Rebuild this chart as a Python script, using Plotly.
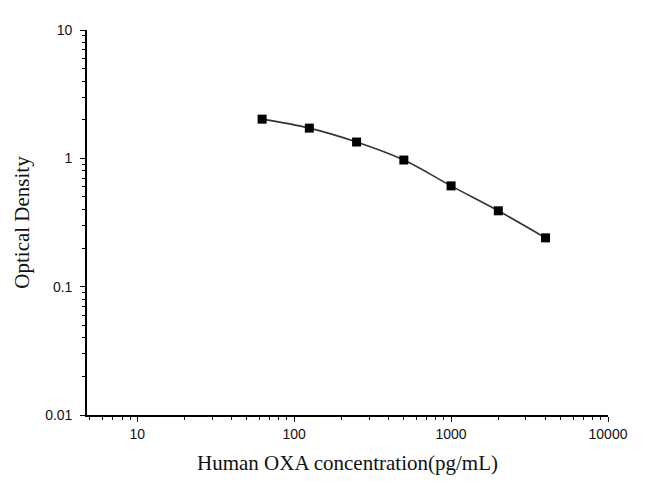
import plotly.graph_objects as go

# standard curve
concentration = [62.5, 125, 250, 500, 1000, 2000, 4000]
optical_density = [2.02, 1.72, 1.34, 0.97, 0.61, 0.39, 0.24]

x_ticks = [10, 100, 1000, 10000]
x_tick_text = ['10', '100', '1000', '10000']
y_ticks = [0.01, 0.1, 1, 10]
y_tick_text = ['0.01', '0.1', '1', '10']

fig = go.Figure(
    go.Scatter(
        x = concentration,
        y = optical_density,
        mode = 'lines+markers',
        line = dict(color = '#333333', width = 1.6, shape = 'spline'),
        marker = dict(symbol = 'square', size = 9, color = 'black'),
        showlegend = False
    )
)

axis_style = dict(
    type = 'log',
    showline = True,
    linecolor = 'black',
    linewidth = 1.6,
    showgrid = False,
    zeroline = False,
    ticks = 'outside',
    ticklen = 5,
    tickwidth = 1.3,
    tickcolor = 'black',
    tickfont = dict(family = 'Liberation Sans, Arial', size = 14, color = '#111111'),
    minor = dict(ticks = 'outside', ticklen = 3, tickcolor = 'black', dtick = 'D1', showgrid = False),
)

title_font = dict(family = 'Liberation Serif, Times New Roman', size = 21, color = '#111111')

# the page body adds 8px on the left and top, so margins are shifted
fig.update_layout(
    width = 650,
    height = 500,
    paper_bgcolor = 'white',
    plot_bgcolor = 'white',
    margin = { "l": 79, "r": 50, "t": 22, "b": 93 },
    xaxis = dict(
        axis_style,
        range = [0.68, 4],
        tickvals = x_ticks,
        ticktext = x_tick_text,
        title = dict(text = 'Human OXA concentration(pg/mL)', standoff = 15, font = title_font),
    ),
    yaxis = dict(
        axis_style,
        range = [-2, 1],
        tickvals = y_ticks,
        ticktext = y_tick_text,
        ticklabelstandoff = 5,
        title = dict(text = 'Optical Density', standoff = 10, font = title_font),
    ),
)

fig.write_html("out.html")
